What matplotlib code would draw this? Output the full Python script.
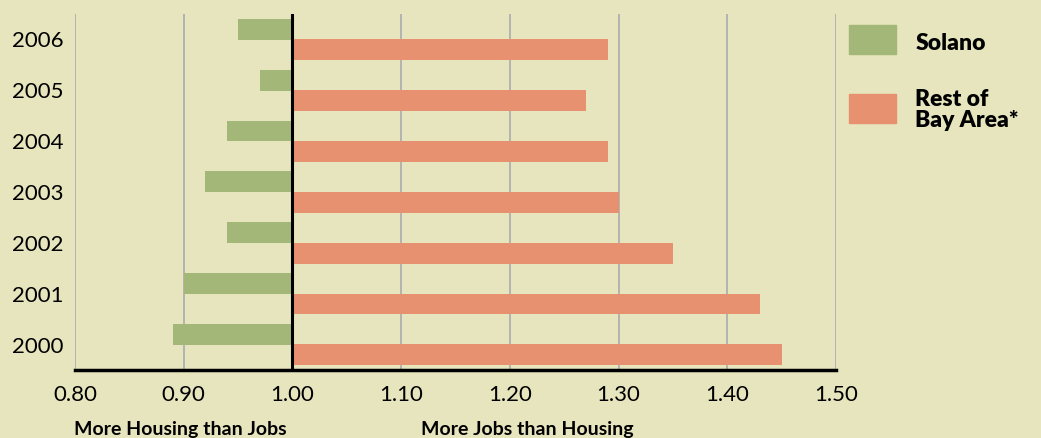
import matplotlib.pyplot as plt
import numpy as np
from matplotlib import patches

plt.rcParams['font.family'] = ['Lato', 'DejaVu Sans']

years = ["2000", "2001", "2002", "2003", "2004", "2005", "2006"]
solano = [0.89, 0.90, 0.94, 0.92, 0.94, 0.97, 0.95]
rest_of_bay = [1.45, 1.43, 1.35, 1.30, 1.29, 1.27, 1.29]
x_ticks = [0.80, 0.90, 1.00, 1.10, 1.20, 1.30, 1.40, 1.50]

BG = "#E6E5BD"
GREEN = "#A3B878"
SALMON = "#E89170"
BASE = 1.0

fig = plt.figure(figsize=(10.41, 4.38), dpi=100, facecolor=BG)
ax = fig.add_axes([0.072, 0.155, 0.731, 0.813])
ax.set_facecolor(BG)

y = np.arange(len(years))
h = 0.41
# bars grow out from the 1.00 line in both directions
ax.barh(y + 0.2, np.array(solano) - BASE, left=BASE, height=h, color=GREEN, zorder=3)
ax.barh(y - 0.2, np.array(rest_of_bay) - BASE, left=BASE, height=h, color=SALMON, zorder=3)

ax.set_xlim(0.80, 1.50)
ax.set_ylim(-0.5, len(years) - 0.5)

for xv in x_ticks:
    if xv != BASE:
        ax.axvline(xv, color="#AFAFAF", lw=1.3, zorder=1)
ax.axvline(BASE, color="black", lw=2.2, zorder=4)

for s in ["top", "right", "left"]:
    ax.spines[s].set_visible(False)
ax.spines["bottom"].set_color("black")
ax.spines["bottom"].set_linewidth(2.5)
ax.spines["bottom"].set_zorder(5)

ax.set_xticks(x_ticks)
ax.set_xticklabels([f"{v:.2f}" for v in x_ticks])
ax.set_yticks(y)
ax.set_yticklabels(years)
ax.tick_params(axis="both", length=0, labelsize=16, colors="black")
ax.tick_params(axis="y", pad=8.5)
ax.tick_params(axis="x", pad=11)

W, H = fig.get_size_inches() * fig.dpi

fig.text(74 / W, 3 / H, "More Housing than Jobs", fontsize=14, fontweight="bold",
         ha="left", va="baseline")
fig.text(421 / W, 3 / H, "More Jobs than Housing", fontsize=14, fontweight="bold",
         ha="left", va="baseline")

# legend swatches and labels
fig.patches.append(patches.Rectangle((849 / W, 1 - 54 / H), 47 / W, 29 / H,
                                     transform=fig.transFigure, color=GREEN))
fig.patches.append(patches.Rectangle((849 / W, 1 - 123 / H), 47 / W, 29 / H,
                                     transform=fig.transFigure, color=SALMON))
fig.text(916 / W, 1 - 43 / H, "Solano", fontsize=16.5, fontweight="heavy", va="center")
fig.text(915 / W, 1 - 110 / H, "Rest of\nBay Area*", fontsize=16.5, fontweight="heavy",
         va="center", linespacing=0.95)

fig.savefig("out.png", dpi=100, facecolor=BG)
